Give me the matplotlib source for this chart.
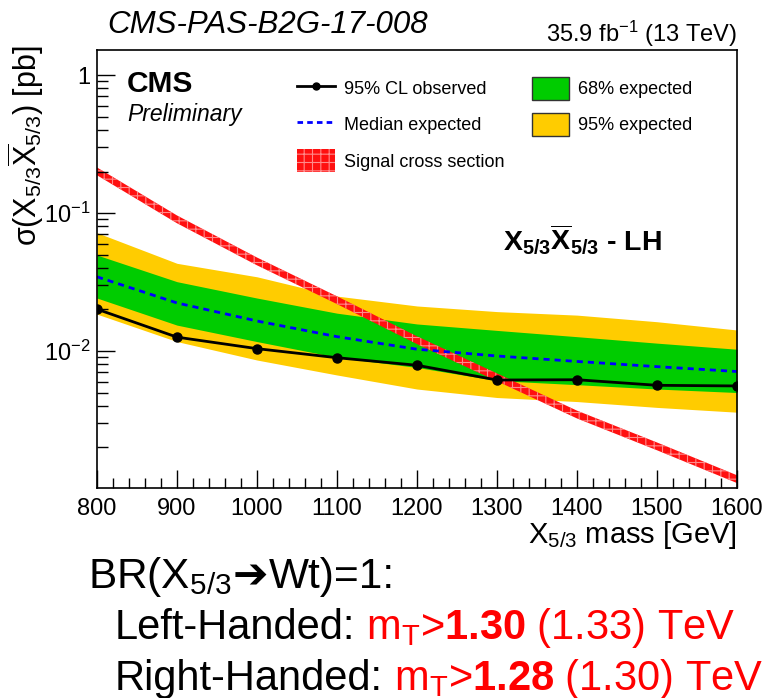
import numpy as np
import matplotlib
matplotlib.use('Agg')
import matplotlib.pyplot as plt
from matplotlib.lines import Line2D
from matplotlib.patches import Patch
from matplotlib.ticker import MultipleLocator, NullFormatter
from matplotlib.transforms import IdentityTransform

plt.rcParams['font.family'] = ['Liberation Sans', 'DejaVu Sans']
plt.rcParams['mathtext.fontset'] = 'custom'
plt.rcParams['mathtext.rm'] = 'Liberation Sans'
plt.rcParams['mathtext.it'] = 'Liberation Sans:italic'
plt.rcParams['mathtext.bf'] = 'Liberation Sans:bold'
plt.rcParams['mathtext.default'] = 'regular'
plt.rcParams['hatch.linewidth'] = 0.8

# limits in pb vs. X5/3 mass (GeV)
mass = np.array([800, 900, 1000, 1100, 1200, 1300, 1400, 1500, 1600])
observed = np.array([0.0201, 0.0126, 0.0104, 0.00894, 0.00788, 0.00616, 0.00619, 0.00564, 0.00558])
expected = np.array([0.0345, 0.0223, 0.0165, 0.0127, 0.0103, 0.0092, 0.0084, 0.0077, 0.0071])
exp68_lo = np.array([0.0242, 0.0154, 0.0117, 0.0090, 0.0076, 0.0061, 0.0057, 0.0053, 0.0050])
exp68_hi = np.array([0.0496, 0.0318, 0.0242, 0.0188, 0.0157, 0.0141, 0.0127, 0.0114, 0.0103])
exp95_lo = np.array([0.0185, 0.0117, 0.0086, 0.0067, 0.0053, 0.0046, 0.0043, 0.0039, 0.0036])
exp95_hi = np.array([0.0720, 0.0432, 0.0345, 0.0250, 0.0212, 0.0193, 0.0182, 0.0163, 0.0142])
signal_xsec = np.array([0.201, 0.0902, 0.0447, 0.0234, 0.0120, 0.00646, 0.00347, 0.00204, 0.00118])
signal_unc = 0.065

W, H = 765, 698
fig = plt.figure(figsize=(W / 100, H / 100), dpi=100)
ax = fig.add_axes([97 / W, 1 - 488 / H, 640 / W, 438 / H])

green = '#00cc00'
yellow = '#ffcc00'
sig_face = '#ff1010'
sig_hatch = '#ff8a8a'

ax.fill_between(mass, exp95_lo, exp95_hi, color=yellow, lw=0)
ax.fill_between(mass, exp68_lo, exp68_hi, color=green, lw=0)
ax.plot(mass, expected, color='#0000ff', lw=2, ls=(0, (2.2, 1.8)))
ax.plot(mass, observed, color='black', lw=2, marker='o', ms=6.5)
ax.fill_between(mass, signal_xsec * (1 - signal_unc), signal_xsec * (1 + signal_unc),
                facecolor=sig_face, edgecolor=sig_hatch, hatch='++', lw=0)

ax.set_yscale('log')
ax.set_xlim(800, 1600)
ax.set_ylim(1.016e-3, 1.52)

ax.xaxis.set_major_locator(MultipleLocator(100))
ax.xaxis.set_minor_locator(MultipleLocator(20))
ax.set_yticks([1e-2, 1e-1, 1], [r'$10^{-2}$', r'$10^{-1}$', '1'])
ax.yaxis.set_minor_formatter(NullFormatter())
ax.tick_params(which='both', direction='in', top=False, right=False, width=1)
ax.tick_params(axis='x', which='major', length=13, labelsize=17, pad=7)
ax.tick_params(axis='x', which='minor', length=7)
ax.tick_params(axis='y', which='major', length=13, labelsize=17, pad=5)
ax.tick_params(axis='y', which='minor', length=8)
for sp in ax.spines.values():
    sp.set_linewidth(1.2)

ax.set_xlabel(r'X$_{5/3}$ mass [GeV]', fontsize=21, loc='right')
ax.xaxis.set_label_coords(1.0, -0.07)
ax.set_ylabel(r'σ(X$_{5/3}\overline{X}_{5/3}$) [pb]', fontsize=22, loc='top')
ax.yaxis.set_label_coords(-0.08, 1.01)

handles = [
    Line2D([], [], color='black', lw=2, marker='o', ms=5),
    Line2D([], [], color='#0000ff', lw=2, ls=(0, (2, 1.5))),
    Patch(facecolor=sig_face, edgecolor=sig_hatch, hatch='++', lw=0),
    Patch(facecolor=green, edgecolor='#333333', lw=1),
    Patch(facecolor=yellow, edgecolor='#333333', lw=1),
]
labels = ['95% CL observed', 'Median expected', 'Signal cross section',
          '68% expected', '95% expected']
ax.legend(handles, labels, ncol=2, loc='upper left',
          bbox_to_anchor=(297 / W, 1 - 77 / H), bbox_transform=fig.transFigure,
          frameon=False, fontsize=13, borderpad=0, borderaxespad=0,
          handlelength=2.1, handleheight=1.55, handletextpad=0.5,
          labelspacing=0.75, columnspacing=1.5)

fig.text(107 / W, 1 - 33 / H, 'CMS-PAS-B2G-17-008', style='italic', fontsize=22.5, va='baseline')
fig.text(737 / W, 1 - 42 / H, r'35.9 fb$^{-1}$ (13 TeV)', fontsize=17, ha='right', va='baseline')
fig.text(127 / W, 1 - 92 / H, 'CMS', weight='bold', fontsize=21.5, va='baseline')
fig.text(127 / W, 1 - 121 / H, 'Preliminary', style='italic', fontsize=16.5, va='baseline')
fig.text(503 / W, 1 - 249 / H, r'$\mathbf{X_{5/3}\overline{X}_{5/3}}$ - LH',
         weight='bold', fontsize=20.5, va='baseline')

renderer = fig.canvas.get_renderer()


def write_line(x, y, pieces, size):
    # pieces: (text, color, weight, family, gap after in px)
    for s, color, weight, family, gap in pieces:
        t = fig.text(x, H - y, s, transform=IdentityTransform(), fontsize=size,
                     color=color, weight=weight, family=family, va='baseline')
        x = t.get_window_extent(renderer).x1 + gap


sans = ['Liberation Sans', 'DejaVu Sans']
write_line(88, 588, [
    (r'BR(X$_{5/3}$', 'black', 'normal', sans, 1),
    ('➔', 'black', 'normal', ['DejaVu Sans'], 1),
    ('Wt)=1:', 'black', 'normal', sans, 0),
], 30.5)
write_line(115, 639, [
    ('Left-Handed:', 'black', 'normal', sans, 11),
    (r'm$_T$>$\mathbf{1.30}$ (1.33) TeV', 'red', 'normal', sans, 0),
], 30)
write_line(115, 690, [
    ('Right-Handed:', 'black', 'normal', sans, 11),
    (r'm$_T$>$\mathbf{1.28}$ (1.30) TeV', 'red', 'normal', sans, 0),
], 30)

fig.savefig('out.png', dpi=100)
plt.close(fig)
